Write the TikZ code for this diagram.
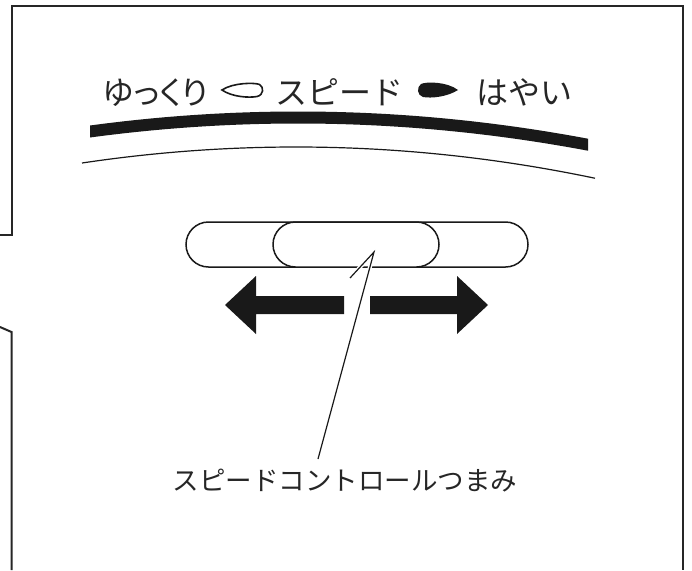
\documentclass[tikz,border=0pt]{standalone}
\usepackage{fontspec}
\newfontfamily\jp{Noto Sans CJK JP}
\newfontfamily\jpp[RawFeature=+palt]{Noto Sans CJK JP}
\begin{document}
\begin{tikzpicture}[x=1pt,y=-1pt,
  frame/.style={line width=2pt,line cap=butt,draw=black!85},
  slot/.style={draw=black!90,line width=1.5pt,rounded corners=22.5pt,minimum height=45pt,inner sep=0pt,fill=white},
  toptext/.style={font=\jp\fontsize{32}{32}\selectfont,anchor=base,inner sep=0pt,text=black!85},
  lbl/.style={font=\jp\fontsize{26.5}{26.5}\selectfont,anchor=base,inner sep=0pt,text=black!85},
  bigarrow/.style={fill=black!90},
  leader/.style={draw=black!90,line width=1.2pt,preaction={draw=white,line width=4pt}}]
\useasboundingbox (0,0) rectangle (692,570);
\fill[white] (0,0) rectangle (692,570);
% frame
\draw[frame] (0,235) -- (11.5,235) -- (11.5,6) -- (683,6) -- (683,570);
\draw[frame] (0,327) -- (11.5,332) -- (11.5,570);
% top legend
\node[toptext,font=\jpp\fontsize{32}{32}\selectfont] (slow) at (156,104) {ゆっくり};
\node[toptext] (speed) at (339,104) {スピード};
\node[toptext] (fast) at (524,104) {はやい};
\draw[line width=1.6pt,draw=black!90] (222,90) .. controls (233,82.5) and (255,82.5) .. (259.5,84.5) .. controls (264,87) and (264,95) .. (257,96.5) .. controls (249,98) and (232,97) .. (222,90) -- cycle;
\fill[black!90] (458,90) .. controls (447,81.5) and (426,81.5) .. (421,84) .. controls (416.5,87) and (417,95.5) .. (423,97) .. controls (431,98.5) and (447,97) .. (458,90) -- cycle;
% arcs
\fill[black!90] plot[domain=90:588,samples=80] (\x,{111.5+3.236*((\x-298)/100)^2}) -- plot[domain=588:90,samples=80] (\x,{123.5+3.236*((\x-298)/100)^2}) -- cycle;
\draw[line width=1.2pt,draw=black!90] plot[domain=82:595,samples=80] (\x,{147+3.494*((\x-296)/100)^2});
% slider
\node[slot,minimum width=342pt] (track) at (357,244.5) {};
\node[slot,minimum width=166pt] (knob) at (356,244.5) {};
% arrows
\fill[bigarrow] (225,305) -- (256,276) -- (256,296) -- (344,296) -- (344,314) -- (256,314) -- (256,334) -- cycle;
\fill[bigarrow] (488,305) -- (457,276) -- (457,296) -- (370,296) -- (370,314) -- (457,314) -- (457,334) -- cycle;
% label and leader
\node[lbl] (label) at (345,490) {スピードコントロールつまみ};
\coordinate (tip) at (374,252);
\coordinate (tick) at (350,278);
\coordinate (lend) at (318,459);
\draw[leader] (tick) -- (tip) -- (lend);
\end{tikzpicture}
\end{document}
